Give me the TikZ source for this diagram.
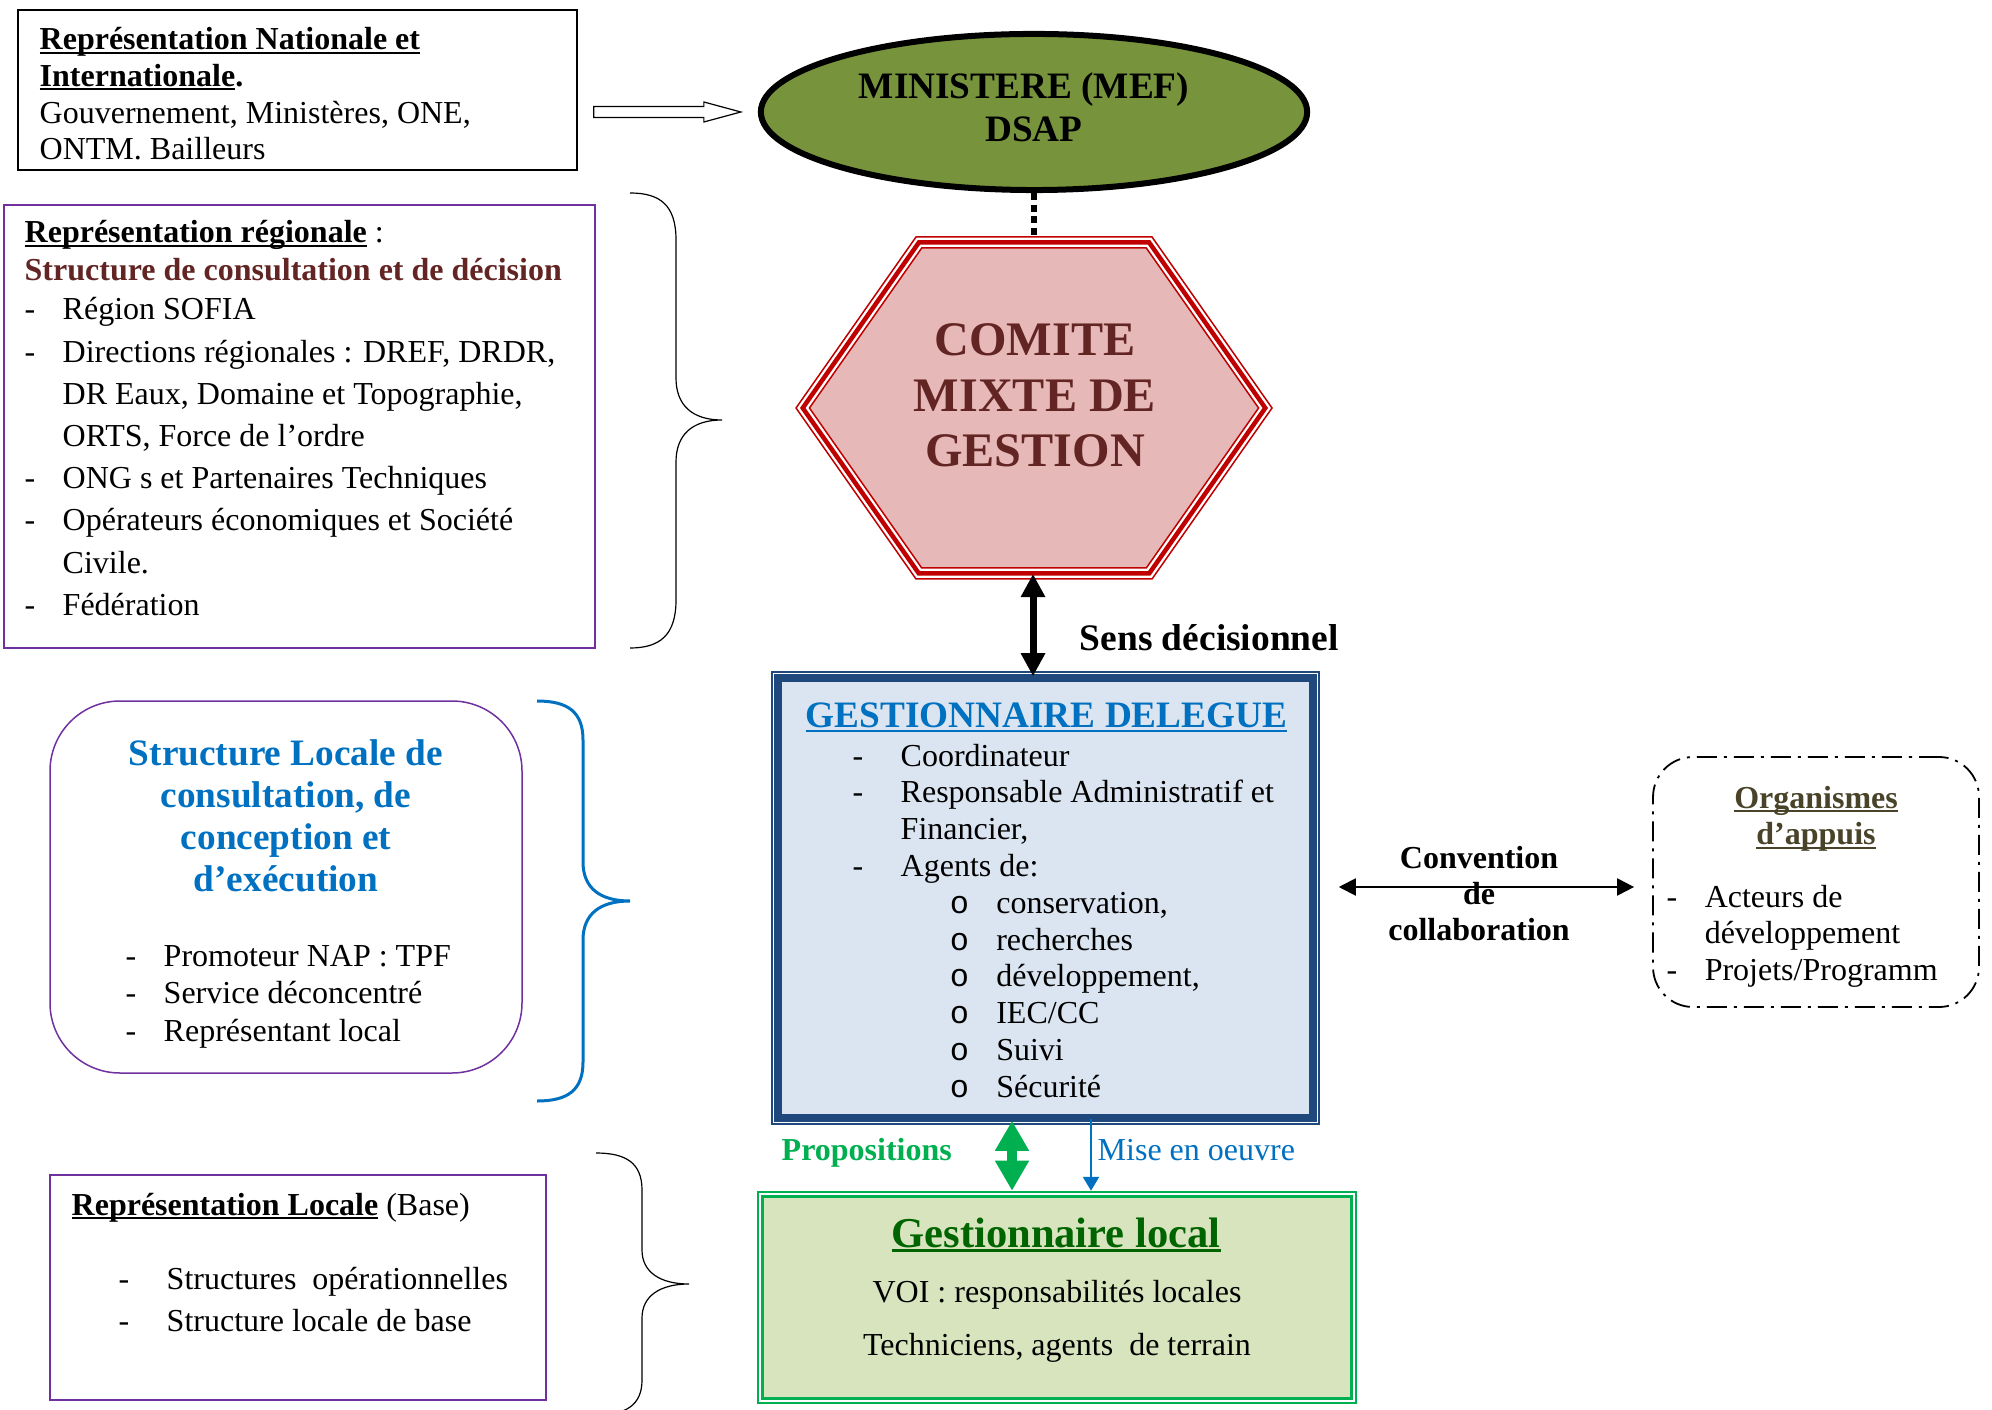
\documentclass[tikz,border=0pt]{standalone}
\usepackage{fontspec}
\setmainfont{Liberation Serif}
\setmonofont{Liberation Mono}
\usetikzlibrary{fit,calc,shapes.geometric,arrows.meta}
\definecolor{olive}{HTML}{77933C}
\definecolor{rougecmg}{HTML}{C00000}
\definecolor{rosecmg}{HTML}{E6B9B8}
\definecolor{bordeaux}{HTML}{632523}
\definecolor{bleugd}{HTML}{0070C0}
\definecolor{marine}{HTML}{1F497D}
\definecolor{ciel}{HTML}{DBE5F1}
\definecolor{vertgl}{HTML}{00B050}
\definecolor{vertpale}{HTML}{D7E4BD}
\definecolor{vertfonce}{HTML}{006400}
\definecolor{pourpre}{HTML}{7030A0}
\definecolor{kaki}{HTML}{494429}
\newcommand{\souligne}[1]{\leavevmode\setbox0\hbox{#1}\rlap{\rule[-0.12em]{\wd0}{0.065em}}\box0\relax}
\newcommand{\hexa}[1]{({796+1.22*#1},408) -- ({916+0.52*#1},{237+#1}) -- ({1152-0.52*#1},{237+#1}) -- ({1272-1.22*#1},408) -- ({1152-0.52*#1},{579-#1}) -- ({916+0.52*#1},{579-#1}) -- cycle}

\begin{document}
\begin{tikzpicture}[x=0.01cm, y=-0.01cm,
    boite/.style={draw, inner sep=0, line width=0.015cm},
    corps/.style={inner sep=0, font=\fontsize{9.1}{#1}\selectfont}, corps/.default=10.4,
    gras/.style 2 args={inner sep=0, font=\bfseries\fontsize{#1}{#2}\selectfont}]
  \useasboundingbox (0,0) rectangle (1992,1410);

  \node[boite, fit={(18,10) (577,170)}] (nat) {};
  \node[corps, anchor=base west] (nat-txt) at (39,50) {\begin{tabular}[t]{@{}l@{}}
      \souligne{\textbf{Représentation Nationale et}}\\
      \souligne{\textbf{Internationale}}\textbf{.}\\
      Gouvernement, Ministères, ONE,\\
      ONTM. Bailleurs\end{tabular}};

  \node[boite, draw=pourpre, fit={(4,205) (595,648)}] (region) {};
  \node[corps, anchor=base west] (region-titre) at (24,243) {\souligne{\textbf{Représentation régionale}} :};
  \node[gras={9.1}{11}, text=bordeaux, anchor=base west] (region-sous) at (24,281) {Structure de consultation et de décision};
  \node[corps=12.0, anchor=base west] (region-liste) at (24,320) {\begin{tabular}[t]{@{}p{0.38cm}@{}l@{}}
      - & Région SOFIA\\
      - & Directions régionales : DREF, DRDR,\\
        & DR Eaux, Domaine et Topographie,\\
        & ORTS, Force de l’ordre\\
      - & ONG s et Partenaires Techniques\\
      - & Opérateurs économiques et Société\\
        & Civile.\\
      - & Fédération\end{tabular}};
  \draw[line width=0.012cm] (630,193) .. controls (660,193) and (676,205) .. (676,240) -- (676,378)
    .. controls (676,405) and (692,420) .. (722,420) .. controls (692,420) and (676,435) .. (676,462)
    -- (676,600) .. controls (676,635) and (660,648) .. (630,648);

  \node[ellipse, draw, line width=0.06cm, fill=olive, minimum width=5.46cm, minimum height=1.56cm, inner sep=0] (ministere) at (1034,112) {};
  \node[gras={10.6}{11.95}, anchor=base] (ministere-txt) at (1034,99) {\begin{tabular}[t]{@{}c@{}}MINISTERE (MEF)\hspace{0.2cm}\mbox{}\\ DSAP\end{tabular}};

  \filldraw[fill=white, draw=rougecmg, line width=0.015cm] \hexa{0};
  \draw[draw=rougecmg, line width=0.045cm] \hexa{5.5};
  \filldraw[fill=rosecmg, draw=rougecmg, line width=0.015cm] \hexa{11};
  \coordinate (hex-haut) at (1034,237);
  \coordinate (hex-bas) at (1033,574);
  \node[gras={13.7}{15.65}, text=bordeaux, anchor=base] (comite) at (1035,356) {\begin{tabular}[t]{@{}c@{}}COMITE\\ MIXTE DE\\ GESTION\end{tabular}};
  \node[gras={10.65}{12}, anchor=base west] (sens) at (1079,650) {Sens décisionnel};

  \node[boite, draw=marine, fit={(772,672) (1319,1124)}] (gd) {};
  \filldraw[fill=ciel, draw=marine, line width=0.08cm] ($(gd.north west)+(7,7)$) rectangle ($(gd.south east)+(-7,-7)$);
  \node[gras={10.6}{12}, text=bleugd, anchor=base west] (gd-titre) at (805,728) {\souligne{GESTIONNAIRE DELEGUE}};
  \node[corps=10.47, anchor=base west] (gd-liste) at (852,766) {\begin{tabular}[t]{@{}p{0.48cm}@{}p{0.49cm}@{}p{0.465cm}@{}l@{}}
      - & \multicolumn{3}{@{}l@{}}{Coordinateur}\\
      - & \multicolumn{3}{@{}l@{}}{Responsable Administratif et}\\
        & \multicolumn{3}{@{}l@{}}{Financier,}\\
      - & \multicolumn{3}{@{}l@{}}{Agents de:}\\
        & & \texttt{o} & conservation,\\
        & & \texttt{o} & recherches\\
        & & \texttt{o} & développement,\\
        & & \texttt{o} & IEC/CC\\
        & & \texttt{o} & Suivi\\
        & & \texttt{o} & Sécurité\end{tabular}};

  \node[draw, line width=0.018cm, dash pattern=on 0.2cm off 0.07cm on 0.03cm off 0.07cm, rounded corners=0.4cm, inner sep=0, fit={(1653,757) (1979,1007)}] (orga) {};
  \node[gras={9.1}{10.5}, text=kaki, anchor=base] (orga-titre) at (1816,808) {\begin{tabular}[t]{@{}c@{}}\souligne{Organismes}\\ \souligne{d’appuis}\end{tabular}};
  \node[corps, anchor=base west] (orga-liste) at (1666,907) {\begin{tabular}[t]{@{}p{0.38cm}@{}l@{}}
      - & Acteurs de\\
        & développement\\
      - & Projets/Programm\end{tabular}};
  \node[gras={9.1}{10.3}, anchor=base] (convention) at (1479,868) {\begin{tabular}[t]{@{}c@{}}Convention\\ de\\ collaboration\end{tabular}};

  \node[boite, draw=vertgl, line width=0.025cm, fill=white, fit={(758,1192) (1356,1403)}] (gl) {};
  \filldraw[fill=vertpale, draw=vertgl, line width=0.028cm] ($(gl.north west)+(6,6)$) rectangle ($(gl.south east)+(-6,-6)$);
  \node[gras={12.1}{14}, text=vertfonce, anchor=base] (gl-titre) at (1056,1247) {\souligne{Gestionnaire local}};
  \node[corps, anchor=base] (gl-voi) at (1057,1302) {VOI : responsabilités locales};
  \node[corps, anchor=base] (gl-tech) at (1057,1355) {Techniciens, agents\ \ de terrain};
  \node[gras={9.1}{11}, text=vertgl, anchor=base west] (propositions) at (781,1160) {Propositions};
  \node[corps, text=bleugd, anchor=base west] (mise) at (1097,1160) {Mise en oeuvre};

  \node[boite, draw=pourpre, rounded corners=0.7cm, fit={(50,701) (522,1073)}] (sl) {};
  \node[gras={10.6}{12}, text=bleugd, anchor=base] (sl-titre) at (286,765) {\begin{tabular}[t]{@{}c@{}}Structure Locale de\\ consultation, de\\ conception et\\ d’exécution\end{tabular}};
  \node[corps=10.8, anchor=base west] (sl-liste) at (125,966) {\begin{tabular}[t]{@{}p{0.38cm}@{}l@{}}
      - & Promoteur NAP : TPF\\
      - & Service déconcentré\\
      - & Représentant local\end{tabular}};
  \draw[bleugd, line width=0.03cm] (537,701) .. controls (568,701) and (583,712) .. (583,740) -- (583,862)
    .. controls (583,888) and (600,901) .. (630,901) .. controls (600,901) and (583,914) .. (583,940)
    -- (583,1062) .. controls (583,1090) and (568,1101) .. (537,1101);

  \node[boite, draw=pourpre, fit={(50,1175) (546,1400)}] (rl) {};
  \node[corps, anchor=base west] (rl-titre) at (71,1215) {\souligne{\textbf{Représentation Locale}} (Base)};
  \node[corps=12.2, anchor=base west] (rl-liste) at (118,1289) {\begin{tabular}[t]{@{}p{0.48cm}@{}l@{}}
      - & Structures\ \ opérationnelles\\
      - & Structure locale de base\end{tabular}};
  \draw[line width=0.012cm] (596,1153) .. controls (626,1153) and (642,1163) .. (642,1190) -- (642,1250)
    .. controls (642,1272) and (660,1284) .. (689,1284) .. controls (660,1284) and (642,1296) .. (642,1318)
    -- (642,1380) .. controls (642,1405) and (626,1415) .. (596,1415);

  \coordinate (fb) at ($(ministere.west)+(-17,0)$);
  \coordinate (fa) at ($(nat.east |- ministere.west)+(16,0)$);
  \draw[line width=0.012cm, fill=white] ($(fa)+(0,-5.5)$) -- ($(fb)+(-37,-5.5)$) -- ($(fb)+(-37,-10)$) -- (fb)
    -- ($(fb)+(-37,10)$) -- ($(fb)+(-37,5.5)$) -- ($(fa)+(0,5.5)$) -- cycle;
  \draw[line width=0.065cm, dash pattern=on 0.07cm off 0.045cm] (ministere.south) -- (hex-haut);
  \draw[line width=0.07cm, {Triangle[length=0.23cm,width=0.23cm]}-{Triangle[length=0.23cm,width=0.23cm]}] (hex-bas) -- ($(hex-bas |- gd.north)+(0,5)$);
  \coordinate (conv) at ($(gd.east)+(19,-11)$);
  \draw[line width=0.02cm, {Triangle[length=0.17cm,width=0.17cm]}-{Triangle[length=0.17cm,width=0.17cm]}] (conv) -- ($(conv -| orga.west)+(-18,0)$);
  \coordinate (prop) at ($(gd.south)+(-33.5,-4)$);
  \draw[vertgl, line width=0.1cm, {Triangle[length=0.3cm,width=0.32cm]}-{Triangle[length=0.3cm,width=0.32cm]}] (prop) -- (prop |- gl.north);
  \coordinate (mise-h) at ($(gd.south)+(45.5,-6)$);
  \draw[bleugd, line width=0.025cm, -{Triangle[length=0.14cm,width=0.16cm]}] (mise-h) -- (mise-h |- gl.north);
\end{tikzpicture}
\end{document}
